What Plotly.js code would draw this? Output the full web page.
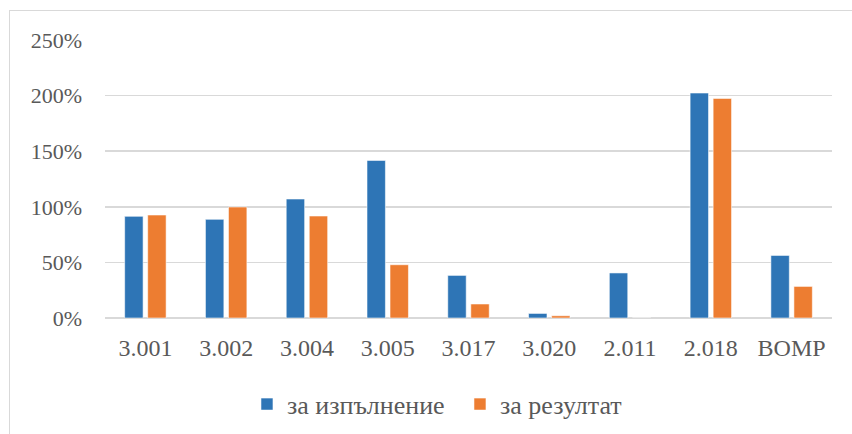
<!DOCTYPE html>
<html>
<head>
<meta charset="utf-8">
<script src="https://cdn.plot.ly/plotly-3.0.1.min.js"></script>
<style>
  html, body { margin:0; padding:0; background:#fff; }
  #wrap { position:relative; width:852px; height:434px; overflow:hidden; }
  #chart { width:852px; height:434px; }
  #frame { position:absolute; left:9px; top:10px; width:900px; height:500px;
           border-left:1.5px solid #d9d9d9; border-top:1.5px solid #d9d9d9; pointer-events:none; }
</style>
</head>
<body>
<div id="wrap"><div id="chart"></div><div id="frame"></div></div>
<script>
const categories = ['3.001','3.002','3.004','3.005','3.017','3.020','2.011','2.018','BOMP'];
const seriesNames = ['за изпълнение','за резултат'];
const valuesExecution = [91.4, 88.7, 107, 141.7, 38.3, 4.1, 40.5, 202.3, 56.3];
const valuesResult = [92.6, 99.8, 91.7, 47.9, 12.6, 2.0, 0, 197.5, 28.4];
const yTicks = [0, 50, 100, 150, 200, 250];

const font = 'Liberation Serif, Times New Roman, serif';
const textColor = '#595959';

const traces = [
  {type:'bar', name:seriesNames[0], x:categories, y:valuesExecution,
   marker:{color:'#2E75B6', line:{color:'rgba(255,255,255,0.55)', width:1}}},
  {type:'bar', name:seriesNames[1], x:categories, y:valuesResult,
   marker:{color:'#ED7D31', line:{color:'rgba(255,255,255,0.55)', width:1}}}
];

const layout = {
  width:852, height:434,
  margin:{l:105, r:20, t:40, b:116, autoexpand:false},
  paper_bgcolor:'#fff', plot_bgcolor:'#fff',
  font:{family:font, size:22, color:textColor},
  barmode:'group', bargap:0.43, bargroupgap:0.2,
  showlegend:true,
  legend:{orientation:'h', x:0.1953, xanchor:'left', y:-0.31, yanchor:'middle',
          entrywidth:168,
          font:{family:font, size:26, color:textColor}, traceorder:'normal'},
  xaxis:{type:'category', showgrid:false, zeroline:false, showline:false, ticks:'',
         ticklabelstandoff:13, tickfont:{family:font, size:24, color:textColor}},
  yaxis:{range:[0,250], tickvals:yTicks, ticktext:yTicks.map(v=>v+'%'),
         showgrid:true, gridcolor:'#d9d9d9', gridwidth:1.5,
         zeroline:true, zerolinecolor:'#d9d9d9', zerolinewidth:1.5,
         showline:false, ticks:'', ticklabelstandoff:22,
         tickfont:{family:font, size:22, color:textColor}}
};

Plotly.newPlot('chart', traces, layout, {displayModeBar:false, staticPlot:true});
</script>
</body>
</html>
